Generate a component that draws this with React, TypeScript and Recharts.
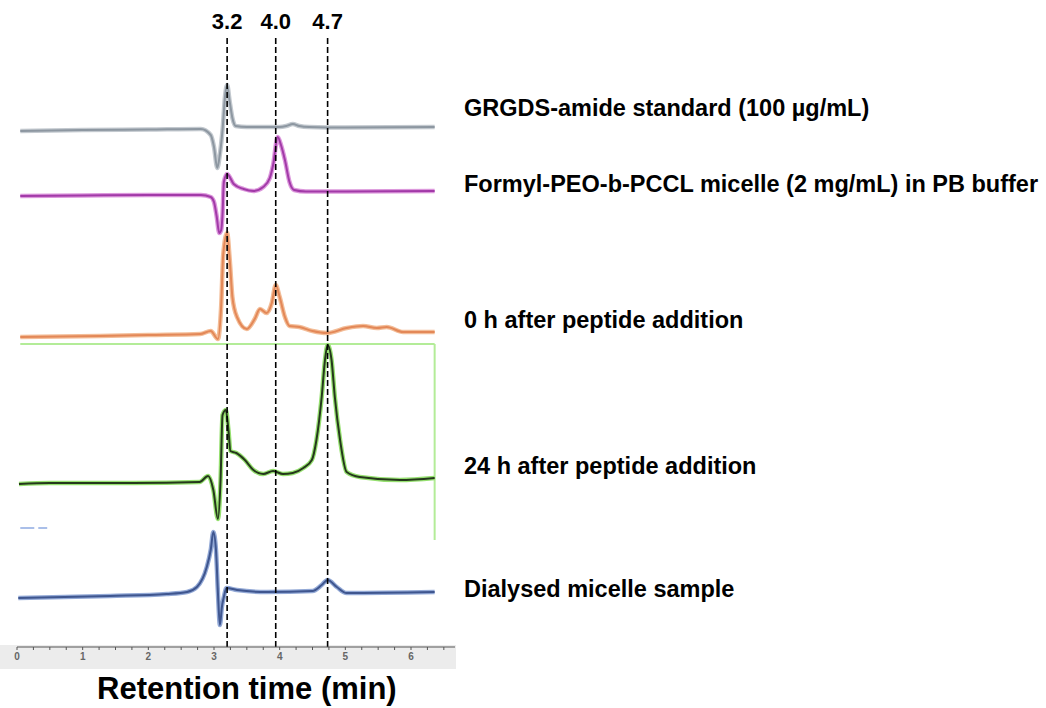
import { LineChart, Line, XAxis, YAxis, ReferenceLine } from "recharts";

// retention times (min) and detector signal for each trace
const grgdsTime = [0.05, 1.0, 2.0, 2.8, 2.95, 3.0, 3.05, 3.09, 3.13, 3.17, 3.2, 3.24, 3.28, 3.33, 3.5, 4.0, 4.1, 4.2, 4.3, 4.45, 5.0, 6.36];
const grgdsSignal = [-2, -1, -0.5, 0, -6, -18, -39, -25, -1, 34, 44, 27, 11, 3, 2, 2, 3, 5, 3, 2, 1.5, 2];

const micelleTime = [0.05, 1.0, 2.0, 2.8, 2.95, 3.0, 3.04, 3.08, 3.11, 3.13, 3.15, 3.2, 3.3, 3.45, 3.6, 3.75, 3.85, 3.9, 3.97, 4.02, 4.08, 4.15, 4.22, 4.4, 5.0, 6.36];
const micelleSignal = [-2, -1.5, -1, -1, -3, -8, -22, -39, -36, -20, 12, 20, 10, 5, 3, 7, 16, 29, 57, 49, 34, 12, 4, 2.5, 2.5, 3];

const zeroHourTime = [0.05, 1.26, 2.0, 2.79, 2.95, 3.06, 3.11, 3.14, 3.2, 3.24, 3.28, 3.35, 3.5, 3.62, 3.7, 3.8, 3.88, 3.94, 4.0, 4.08, 4.15, 4.3, 4.5, 4.72, 5.02, 5.27, 5.48, 5.63, 5.88, 6.36];
const zeroHourSignal = [-2, -1, 0, 1, 4, -4, 30, 80, 102, 75, 38, 18, 6, 16, 26, 22, 32, 50, 38, 18, 9, 8, 4, 2, 7, 9, 7, 8, 3, 3];

const dayTime = [0.03, 0.5, 1.77, 2.78, 2.91, 2.99, 3.06, 3.1, 3.13, 3.18, 3.22, 3.25, 3.34, 3.47, 3.6, 3.75, 3.9, 4.05, 4.2, 4.36, 4.49, 4.56, 4.64, 4.69, 4.73, 4.79, 4.84, 4.92, 5.02, 5.22, 5.83, 6.36];
const daySignal = [-3, -2, -2, -1, 5, -9, -38, 1, 66, 71, 51, 30, 28, 21, 11, 7, 10, 7, 8, 13, 21, 41, 84, 121, 136, 121, 84, 41, 9, 4, 1, 3];

const dialysedTime = [0.02, 1.42, 2.28, 2.59, 2.74, 2.89, 2.95, 2.99, 3.03, 3.06, 3.09, 3.12, 3.15, 3.19, 3.35, 3.8, 4.5, 4.64, 4.73, 4.87, 5.02, 6.36];
const dialysedSignal = [-3, -1, 1, 3, 8, 28, 45, 63, 45, 2, -30, -12, -2, 7, 5, 3, 4, 10, 15, 8, 2, 3];

const traceNames = [
  "GRGDS-amide standard (100 µg/mL)",
  "Formyl-PEO-b-PCCL micelle (2 mg/mL) in PB buffer",
  "0 h after peptide addition",
  "24 h after peptide addition",
  "Dialysed micelle sample",
];
const traceOffsets = [518, 453, 312, 166, 52];
const labelTops = [96, 172, 308, 454, 577];

const peakTimes = [3.2, 3.94, 4.73];
const peakLabels = ["3.2", "4.0", "4.7"];

const xTicks = Array.from({ length: 27 }, (_, i) => i * 0.25);

type Pt = { t: number; v: number };

function build(times: number[], signal: number[], offset: number): Pt[] {
  return times.map((t, i) => ({ t, v: offset + signal[i] }));
}

const traces = [
  { data: build(grgdsTime, grgdsSignal, traceOffsets[0]), halo: "#c3c9cf", core: "#8d97a1" },
  { data: build(micelleTime, micelleSignal, traceOffsets[1]), halo: "#dc98dc", core: "#a23aa8" },
  { data: build(zeroHourTime, zeroHourSignal, traceOffsets[2]), halo: "#f3bd98", core: "#e38858" },
  { data: build(dayTime, daySignal, traceOffsets[3]), halo: "#96e070", core: "#25381c" },
  { data: build(dialysedTime, dialysedSignal, traceOffsets[4]), halo: "#93a9d6", core: "#3f568f" },
];

const FONT = '"Liberation Sans", Arial, sans-serif';

export default function App() {
  return (
    <div style={{ position: "absolute", left: 0, top: 0, width: 1046, height: 708, background: "#fff", fontFamily: FONT }}>
      <div style={{ position: "absolute", left: 0, top: 645, width: 456, height: 24, background: "#ececec" }} />
      <div style={{ position: "absolute", left: 0, top: 0 }}>
        <LineChart width={1046} height={708} margin={{ top: 35, right: 591, bottom: 41, left: 17 }}>
          <XAxis
            dataKey="t"
            type="number"
            domain={[0, 6.67]}
            ticks={xTicks}
            interval={0}
            tickSize={3}
            tickMargin={3}
            height={20}
            stroke="#555"
            tick={{ fontSize: 10, fill: "#666", fontWeight: 700, fontFamily: FONT }}
            tickFormatter={(v: number) => (Number.isInteger(v) ? String(v) : "")}
          />
          <YAxis hide type="number" domain={[0, 612]} />
          <ReferenceLine
            segment={[{ x: 0.05, y: 303 }, { x: 6.36, y: 303 }]}
            stroke="#b3ec98"
            strokeWidth={2}
          />
          <ReferenceLine
            segment={[{ x: 6.36, y: 303 }, { x: 6.36, y: 107 }]}
            stroke="#b3ec98"
            strokeWidth={2}
          />
          <ReferenceLine
            segment={[{ x: 0.05, y: 119 }, { x: 0.46, y: 119 }]}
            stroke="#8fabe2"
            strokeWidth={1.5}
            strokeDasharray="14 4"
          />
          {traces.map((tr, i) => (
            <Line
              key={`h${i}`}
              data={tr.data}
              dataKey="v"
              type="monotone"
              stroke={tr.halo}
              strokeWidth={4.5}
              dot={false}
              isAnimationActive={false}
            />
          ))}
          {traces.map((tr, i) => (
            <Line
              key={`c${i}`}
              data={tr.data}
              dataKey="v"
              type="monotone"
              stroke={tr.core}
              strokeWidth={2}
              dot={false}
              isAnimationActive={false}
            />
          ))}
          {peakTimes.map((p, i) => (
            <ReferenceLine
              key={p}
              x={p}
              stroke="#000"
              strokeWidth={1.6}
              strokeDasharray="6 3"
              label={{ value: peakLabels[i], position: "top", offset: 6, fontSize: 22, fontWeight: 700, fill: "#000", fontFamily: FONT }}
            />
          ))}
        </LineChart>
      </div>
      {traceNames.map((name, i) => (
        <div
          key={name}
          style={{ position: "absolute", left: 464, top: labelTops[i], fontSize: 23.5, lineHeight: "24px", fontWeight: 700, color: "#000", whiteSpace: "nowrap" }}
        >
          {name}
        </div>
      ))}
      <div style={{ position: "absolute", left: 97, top: 673, fontSize: 31, lineHeight: "31px", fontWeight: 700, color: "#000", whiteSpace: "nowrap" }}>
        Retention time (min)
      </div>
    </div>
  );
}
